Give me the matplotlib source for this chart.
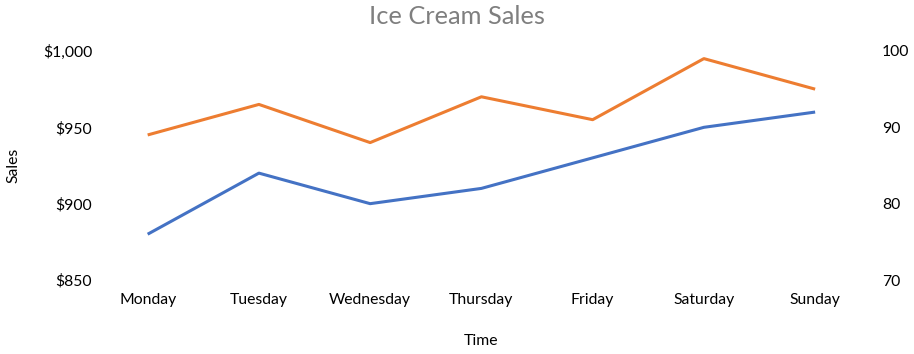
import matplotlib.pyplot as plt
from matplotlib.ticker import FuncFormatter

days = ["Monday", "Tuesday", "Wednesday", "Thursday", "Friday", "Saturday", "Sunday"]
sales = [880, 920, 900, 910, 930, 950, 960]
temps = [89, 93, 88, 94, 91, 99, 95]

plt.rcParams["font.family"] = ["Lato", "DejaVu Sans"]

fig = plt.figure(figsize=(9.14, 3.54), dpi=100)
ax = fig.add_axes([0.1007, 0.209, 0.852, 0.647])
ax2 = ax.twinx()

x = range(len(days))
ax.plot(x, sales, color="#4472C4", linewidth=2.2, solid_capstyle="butt")
ax2.plot(x, temps, color="#ED7D31", linewidth=2.2, solid_capstyle="butt")

ax.set_xlim(-0.5, len(days) - 0.5)
ax.set_ylim(850, 1000)
ax.set_yticks([850, 900, 950, 1000])
ax.yaxis.set_major_formatter(FuncFormatter(lambda v, p: f"${v:,.0f}"))
ax2.set_ylim(70, 100)
ax2.set_yticks([70, 80, 90, 100])

ax.set_xticks(list(x))
ax.set_xticklabels(days)

for a in (ax, ax2):
    for s in a.spines.values():
        s.set_visible(False)
    a.tick_params(length=0, labelsize=11.3, colors="#000000")
ax.tick_params(axis="y", pad=0)
ax.tick_params(axis="x", pad=9)
ax2.tick_params(axis="y", pad=8)

ax.set_xlabel("Time", fontsize=11.3)
ax.xaxis.set_label_coords(0.5, -0.235)
ax.set_ylabel("Sales", fontsize=11.3)
ax.yaxis.set_label_coords(-0.092, 0.5)
fig.text(0.5, 0.952, "Ice Cream Sales", fontsize=18.3, color="#7F7F7F",
         ha="center", va="center")

fig.savefig("out.png", dpi=100)
